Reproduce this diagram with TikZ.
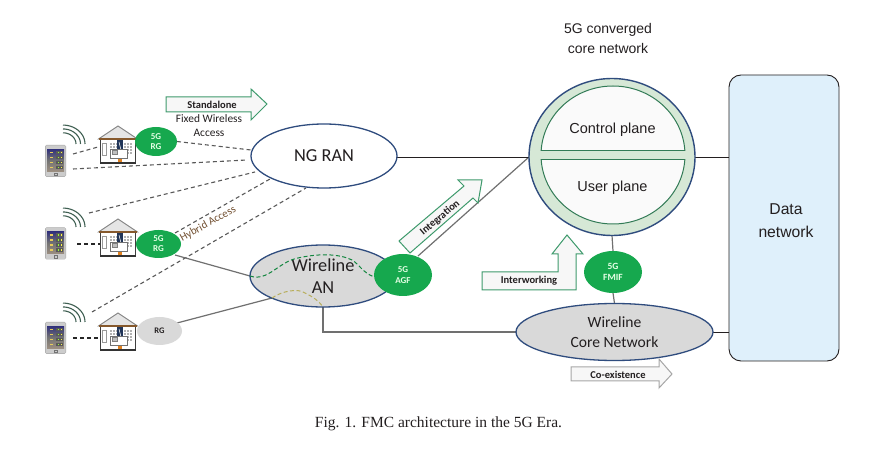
\documentclass[tikz,border=0pt]{standalone}
\usepackage{fontspec}
\setmainfont{Carlito}
\newfontfamily\arialfont{Liberation Sans}
\newfontfamily\timesfont{Liberation Serif}
\usetikzlibrary{shapes.geometric}
\pgfdeclarelayer{bg}
\pgfsetlayers{bg,main}
\definecolor{navy}{HTML}{2F4C7E}
\definecolor{grayfill}{HTML}{D9D9D9}
\definecolor{fivegreen}{HTML}{16A84E}
\definecolor{bandgreen}{HTML}{D6E8D6}
\definecolor{arrowgreen}{HTML}{3E9A6C}
\definecolor{datablue}{HTML}{DFF0FB}
\definecolor{ink}{HTML}{231F20}
\definecolor{linegray}{HTML}{707070}
\definecolor{tan}{HTML}{B8AE5C}
\definecolor{wifigreen}{HTML}{3F5F52}
\tikzset{
  x=1pt,y=-1pt,
  ell/.style={ellipse,inner sep=0pt,outer sep=0pt,align=center,text=ink},
  netell/.style={ell,draw=navy,line width=1.3pt,fill=grayfill},
  fiveg/.style={ell,fill=fivegreen,text=white!90!green,font=\bfseries\fontsize{9}{10}\selectfont},
  dashedlink/.style={draw=black!65,line width=1.1pt,dash pattern=on 4pt off 3pt},
  graylink/.style={draw=linegray,line width=1.2pt},
  darklink/.style={draw=ink,line width=0.8pt},
  greenarrow/.style={draw=arrowgreen,line width=1pt,fill=white!97!black},
  grayarrow/.style={draw=black!35,line width=1pt,fill=white!97!black},
  arrowlabel/.style={font=\bfseries\fontsize{10.5}{12}\selectfont,text=ink,inner sep=0pt},
  wifi/.style={draw=wifigreen,line width=1.1pt},
  housepic/.pic={
    \fill[white] (-18,-6) rectangle (18,18);
    \fill[black!10,draw=black!50,line width=0.9pt,line join=miter] (-19.5,-6) -- (0,-19) -- (19.5,-6) -- cycle;
    \fill[brown!70!black] (-19,-7) rectangle (19,-5);
    \draw[black!75,line width=0.7pt] (-17.5,-5) -- (-17.5,18);
    \draw[black!75,line width=0.7pt] (17.5,-5) -- (17.5,18);
    \draw[black!80,line width=1.2pt] (-18,18) -- (18,18);
    \foreach \wx in {-8,-5,-2} \foreach \wy in {-2,1,4} \fill[black!30] (\wx,\wy) rectangle +(2.4,2.4);
    \foreach \wx in {6,9,12} \foreach \wy in {-2,1,4,7} \fill[black!30] (\wx,\wy) rectangle +(2.4,2.4);
    \draw[black!40,line width=0.6pt] (-15.5,-2) rectangle (-12,10);
    \fill[navy!70!black] (-1,-5) rectangle (5,6);
    \draw[white,line width=0.5pt] (1,-3) -- (3,5);
    \fill[orange!50!brown] (0,12) rectangle (4,17);
    \draw[black!55,fill=white,line width=0.8pt] (-8,4) rectangle (9,13);
    \draw[black!50,fill=black!25,line width=0.4pt] (-6,5.5) rectangle (-1,9);
  },
  tabletpic/.pic={
    \fill[black!35,rounded corners=1.5pt] (-10.5,-16) rectangle (10.5,16);
    \fill[white!80!black,rounded corners=1pt] (-10,-15.5) rectangle (10,15.5);
    \shade[top color=black!65!blue!80,bottom color=brown!40!black!55,middle color=black!55] (-8.5,-11.5) rectangle (8.5,10.5);
    \foreach \ty in {-9,-4,1,6} {
      \fill[yellow!50!brown!80] (-6,\ty) rectangle +(3.5,1.2);
      \fill[black!65] (0.5,\ty-1) rectangle +(7,3.4);
      \fill[green!50!yellow!80] (2,\ty) rectangle +(1.3,1.3);
      \fill[yellow!70!white] (5,\ty) rectangle +(1.3,1.3);
    }
    \draw[black!55,line width=0.5pt] (-1.5,12) rectangle (1.5,14.5);
  },
  wifipic/.pic={
    \foreach \wr in {13,17.5,22} \draw[wifi] plot[domain=0:90,samples=14,smooth] ({\wr*cos(\x)},{-\wr*0.86*sin(\x)});
  }
}
\begin{document}
\begin{tikzpicture}
\useasboundingbox (0,0) rectangle (879,454);

% data network
\node[draw=ink,line width=0.9pt,fill=datablue,rounded corners=12pt,minimum width=110pt,minimum height=286pt,inner sep=0pt] (data) at (784,218) {};
\node[text=ink,align=center,inner sep=0pt,font=\arialfont\fontsize{15.7}{23}\selectfont] (datalabel) at (786,220.5) {Data\\network};

% converged core
\node[ell,draw=navy,line width=1.4pt,fill=bandgreen,minimum width=166pt,minimum height=157pt] (core) at (612,157) {};
\begin{scope}
  \clip (530,70) rectangle (700,151);
  \fill[white!98!black] (613,155) ellipse [x radius=72,y radius=69];
  \draw[arrowgreen!80!black,line width=1pt] (613,155) ellipse [x radius=72,y radius=69];
\end{scope}
\draw[arrowgreen!80!black,line width=1pt] (541,151) -- (685,151);
\begin{scope}
  \clip (530,159.5) rectangle (700,240);
  \fill[white!98!black] (613,155) ellipse [x radius=72,y radius=69];
  \draw[arrowgreen!80!black,line width=1pt] (613,155) ellipse [x radius=72,y radius=69];
\end{scope}
\draw[arrowgreen!80!black,line width=1pt] (541,159.5) -- (685,159.5);
\node[text=ink,inner sep=0pt,font=\arialfont\fontsize{14.5}{17}\selectfont] (cplane) at (612.5,130) {Control plane};
\node[text=ink,inner sep=0pt,font=\arialfont\fontsize{14.5}{17}\selectfont] (uplane) at (612.5,188) {User plane};
\node[text=ink,align=center,inner sep=0pt,font=\arialfont\fontsize{14}{20}\selectfont] (corelabel) at (608,38) {5G converged\\core network};

% access nodes
\node[ell,draw=navy,line width=1.3pt,fill=white,minimum width=146pt,minimum height=64pt,font=\fontsize{18.3}{20}\selectfont] (ran) at (324,156) {NG RAN};
\node[netell,minimum width=146pt,minimum height=62pt,font=\fontsize{18.3}{22}\selectfont] (an) at (323,276) {Wireline\\AN};
\draw[fivegreen!80!black,line width=1pt,dash pattern=on 4pt off 2.5pt] (an.west) .. controls (268,282) and (278,262) .. (298,258) .. controls (320,253) and (340,254) .. (352,260) .. controls (360,265) and (362,272) .. (374,277);
\draw[tan,line width=1pt,dash pattern=on 4pt off 2.5pt] (272,298) .. controls (282,291) and (298,288) .. (305,293) .. controls (313,297) and (318,300) .. (an.south);
\node[fiveg,minimum width=58pt,minimum height=42pt,font=\bfseries\fontsize{9}{11}\selectfont] (agf) at (403,275) {5G\\AGF};
\node[netell,minimum width=197pt,minimum height=57pt,font=\fontsize{15.6}{20}\selectfont] (wcn) at (614.5,332) {Wireline\\Core Network};
\node[fiveg,minimum width=58pt,minimum height=42pt,font=\bfseries\fontsize{9.5}{10.5}\selectfont] (fmif) at (613,272) {5G\\FMIF};

% arrows with labels
\draw[greenarrow] (166,97) -- (251,97) -- (251,89) -- (267,104) -- (251,120) -- (251,112) -- (166,112) -- cycle;
\node[arrowlabel] (standalone) at (212,105) {Standalone};
\node[align=center,inner sep=0pt,text=ink,font=\fontsize{11.4}{14}\selectfont] (fwa) at (209,126) {Fixed Wireless\\Access};
\draw[greenarrow] (399,241) -- (464,186) -- (458,180) -- (482,180) -- (478,203) -- (473,198) -- (410,253) -- cycle;
\node[arrowlabel,rotate=40] (integration) at (440,218) {Integration};
\draw[greenarrow] (482,272) -- (558,272) -- (558,254) -- (552,254) -- (567,235) -- (583,254) -- (576,254) -- (576,290) -- (482,290) -- cycle;
\node[arrowlabel] (interworking) at (529,281) {Interworking};
\draw[grayarrow] (571,367) -- (659,367) -- (659,359) -- (672,374) -- (659,388) -- (659,381) -- (571,381) -- cycle;
\node[arrowlabel] (coexistence) at (618,374.5) {Co-existence};

% homes
\pic at (118,145) {housepic};
\pic at (118,238) {housepic};
\pic at (118,332) {housepic};
\node[fiveg,minimum width=42pt,minimum height=29pt] (rg1) at (156,141.5) {5G\\RG};
\node[fiveg,minimum width=45pt,minimum height=28pt] (rg2) at (158.5,244) {5G\\RG};
\node[ell,fill=grayfill,minimum width=45pt,minimum height=28pt,font=\bfseries\fontsize{8.5}{10}\selectfont] (rg3) at (159.5,331) {RG};
\pic at (55.5,161) {tabletpic};
\pic at (55.5,243.5) {tabletpic};
\pic at (55.5,338) {tabletpic};
\pic at (63,144) {wifipic};
\pic at (63,227) {wifipic};
\pic at (63,322) {wifipic};

\node[rotate=29,inner sep=0pt,text=brown!50!ink,font=\fontsize{11}{13}\selectfont] (hybrid) at (208,224) {Hybrid Access};

% free ends of the connectors
\coordinate (t1a) at (73,154);
\coordinate (h1a) at (98,147);
\coordinate (t1b) at (73,169);
\coordinate (ran1) at (251,150);
\coordinate (ran2) at (247,160);
\coordinate (ran3) at (255,172);
\coordinate (ran4) at (270,179);
\coordinate (ran5) at (306,188);
\coordinate (w2) at (89,213);
\coordinate (t2) at (77,244);
\coordinate (h2) at (100,244);
\coordinate (w3) at (92,312);
\coordinate (t3) at (73,338);
\coordinate (h3) at (100,338);
\coordinate (rg2top) at (175,233);
\coordinate (rg2low) at (175,255);
\coordinate (rg3r) at (177,323);
\coordinate (anrg) at (272,298);
\coordinate (agfup) at (418,256);

\begin{pgfonlayer}{bg}
  \draw[dashedlink] (t1a) -- (h1a);
  \draw[dashedlink] (rg1.east) -- (ran1);
  \draw[dashedlink] (t1b) -- (ran2);
  \draw[dashedlink] (w2) -- (ran3);
  \draw[dashedlink] (rg2top) -- (ran4);
  \draw[dashedlink] (w3) -- (ran5);
  \draw[dashedlink,draw=black!85] (t2) -- (h2);
  \draw[dashedlink,draw=black!85] (t3) -- (h3);
  \draw[graylink] (rg2low) -- (an.west);
  \draw[graylink] (rg3r) -- (anrg);
  \draw[graylink] (an.south) |- (wcn.west);
  \draw[graylink] (agfup) -- (core.west);
  \draw[darklink] (ran.east |- core.west) -- (core.west);
  \draw[darklink] (core.east) -- (core.east -| data.west);
  \draw[darklink] (wcn.east) -- (wcn.east -| data.west);
  \draw[graylink] (core.south) -- (fmif.north);
  \draw[graylink] (fmif.south) -- (wcn.north);
\end{pgfonlayer}

\node[inner sep=0pt,text=ink,font=\timesfont\fontsize{15.5}{17}\selectfont] (caption) at (438.5,424) {Fig. 1. FMC architecture in the 5G Era.};
\end{tikzpicture}
\end{document}
